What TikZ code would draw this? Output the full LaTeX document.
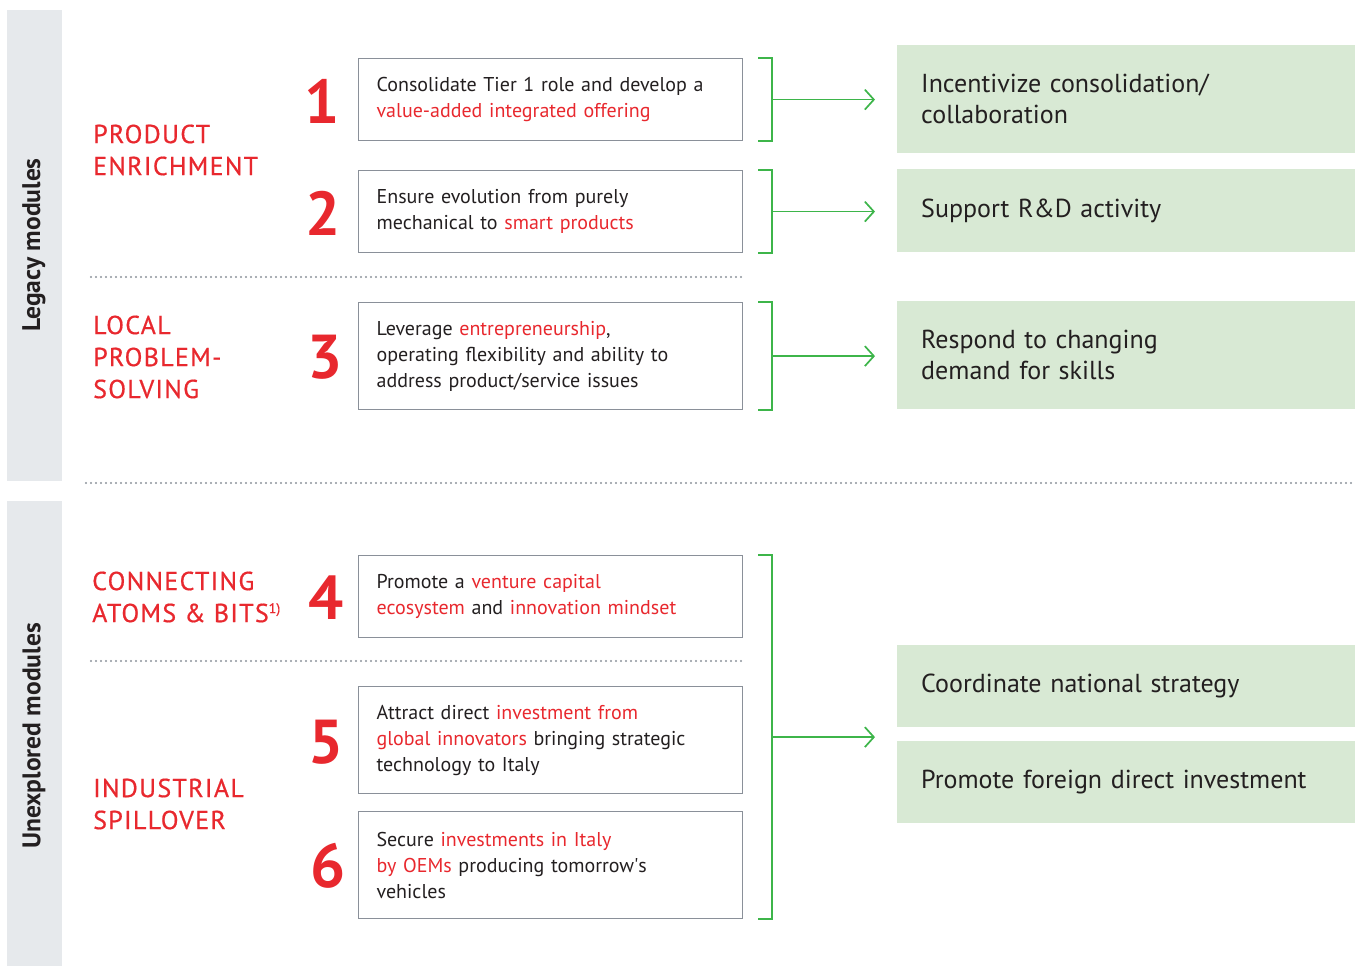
\documentclass[tikz,border=0pt]{standalone}
\usepackage{fontspec}
\setmainfont{PT Sans}
\usetikzlibrary{arrows.meta,calc}
\definecolor{accent}{HTML}{E8282E}
\definecolor{ink}{HTML}{231F20}
\definecolor{frame}{HTML}{8A9099}
\definecolor{bar}{HTML}{E6E9EC}
\definecolor{leaf}{HTML}{3DB54A}
\definecolor{mint}{HTML}{D8E9D4}
\definecolor{dots}{HTML}{8C939B}
\newcommand\hot[1]{\textcolor{accent}{#1}}
\begin{document}
\begin{tikzpicture}[x=1pt,y=-1pt,
  sidebar/.style={fill=bar,draw=none},
  modlabel/.style={rotate=90,text=ink,inner sep=0pt,font=\fontsize{25.5}{28}\selectfont\bfseries},
  topic/.style={anchor=west,align=left,text=accent,inner sep=0pt,
    font=\fontsize{26}{32}\selectfont\addfontfeature{LetterSpace=5,FakeBold=0.6}},
  num/.style={text=accent,inner sep=0pt,font=\fontsize{62}{62}\selectfont\bfseries},
  goal/.style={draw=frame,line width=1.2pt,rectangle,anchor=north west,
    minimum width=384pt,minimum height=#1,text width=348pt,inner xsep=18pt,
    align=left,text=ink,font=\fontsize{20}{26}\selectfont},
  aim/.style={fill=mint,rectangle,anchor=north west,
    minimum width=458pt,minimum height=#1,text width=410pt,inner xsep=24pt,
    align=left,text=ink,font=\fontsize{26}{31}\selectfont},
  link/.style={draw=leaf,line width=1.7pt},
  push/.style={link,-{Straight Barb[length=9pt,width=20pt,line width=1.7pt]}},
  dotline/.style={draw=dots,line width=2.2pt,line cap=round,dash pattern=on 0pt off 5pt}
]
\useasboundingbox (0,0) rectangle (1361,967);

% module side bars
\fill[sidebar] (7,10) rectangle (62,481);
\fill[sidebar] (7,501) rectangle (62,966);
\node[modlabel] (legacy) at (34,245) {Legacy modules};
\node[modlabel] (unexpl) at (34,736) {Unexplored modules};

% separators
\draw[dotline] (91,277) -- (742,277);
\draw[dotline] (86,483) -- (1355,483);
\draw[dotline] (91,661) -- (742,661);

% topic titles
\node[topic] (t1) at (93,150) {PRODUCT\\ENRICHMENT};
\node[topic] (t2) at (93,357) {LOCAL\\PROBLEM-\\SOLVING};
\node[topic] (t3) at (92,597) {CONNECTING\\ATOMS \& BITS\raisebox{9pt}{\fontsize{14}{14}\selectfont\addfontfeature{LetterSpace=0}1)}};
\node[topic] (t4) at (93,804) {INDUSTRIAL\\SPILLOVER};

% numbers
\node[num] (n1) at (322,101) {1};
\node[num] (n2) at (323,213) {2};
\node[num] (n3) at (325,357) {3};
\node[num] (n4) at (326,598) {4};
\node[num] (n5) at (326,742) {5};
\node[num] (n6) at (328,866) {6};

% levers
\node[goal=82pt] (b1) at (358,58) {Consolidate Tier 1 role and develop a\\\hot{value-added integrated offering}};
\node[goal=82pt] (b2) at (358,170) {Ensure evolution from purely\\mechanical to \hot{smart products}};
\node[goal=107pt] (b3) at (358,302) {Leverage \hot{entrepreneurship},\\operating flexibility and ability to\\address product/service issues};
\node[goal=82pt] (b4) at (358,555) {Promote a \hot{venture capital}\\\hot{ecosystem} and \hot{innovation mindset}};
\node[goal=107pt] (b5) at (358,686) {Attract direct \hot{investment from}\\\hot{global innovators} bringing strategic\\technology to Italy};
\node[goal=107pt] (b6) at (358,811) {Secure \hot{investments in Italy}\\\hot{by OEMs} producing tomorrow\textquotesingle s\\vehicles};

% policy actions
\node[aim=108pt] (g1) at (897,45) {Incentivize consolidation/\\collaboration};
\node[aim=83pt] (g2) at (897,169) {Support R\&D activity};
\node[aim=108pt] (g3) at (897,301) {Respond to changing\\demand for skills};
\node[aim=82pt] (g4) at (897,645) {Coordinate national strategy};
\node[aim=82pt] (g5) at (897,741) {Promote foreign direct investment};

% brackets and arrows
\foreach \b/\g in {b1/g1,b2/g2,b3/g3}{
  \draw[link] ([xshift=15pt]\b.north east) -| ([xshift=29pt]\b.south east) -- ([xshift=15pt]\b.south east);
  \coordinate (s\b) at ([xshift=29pt]\b.east);
  \coordinate (e\b) at (s\b -| \g.west);
  \draw[push] (s\b) -- ([xshift=-22pt]e\b);
}
\draw[link] ([xshift=15pt]b4.north east) -| ([xshift=29pt]b6.south east) -- ([xshift=15pt]b6.south east);
\coordinate (sj) at ($(b4.north east)!0.5!(b6.south east)+(29,0)$);
\coordinate (ej) at (sj -| g4.west);
\draw[push] (sj) -- ([xshift=-22pt]ej);
\end{tikzpicture}
\end{document}
